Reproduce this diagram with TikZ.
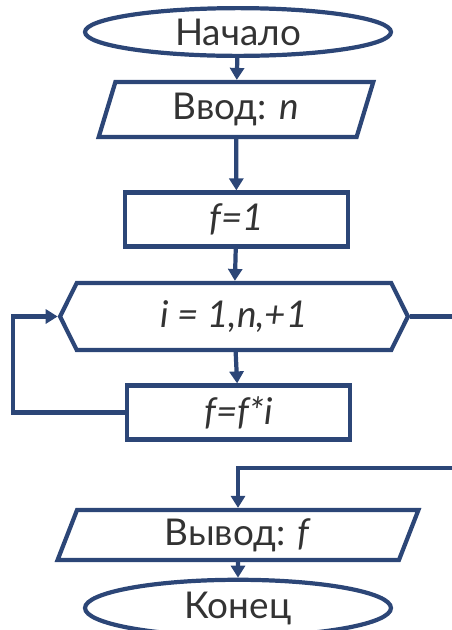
\documentclass[tikz,border=0pt]{standalone}
\usepackage{fontspec}
\setmainfont{Lato}
\usepackage{tikz}
\usetikzlibrary{shapes.geometric,shapes.symbols,arrows.meta,positioning}
\definecolor{flowblue}{HTML}{2C4677}

\begin{document}
\begin{tikzpicture}[
    x=0.02cm, y=-0.02cm,
    font=\fontsize{21}{24}\selectfont,
    block/.style={draw=flowblue, line width=2.4pt, text=black!80, inner sep=2pt},
    terminal/.style={block, ellipse, minimum width=6.12cm, minimum height=0.92cm},
    io/.style={block, trapezium, trapezium left angle=77, trapezium right angle=103, trapezium stretches=true},
    process/.style={block, rectangle, minimum width=4.46cm, minimum height=1.08cm},
    loophead/.style={block, signal, signal to=west and east, signal pointer angle=127, minimum width=6.96cm, minimum height=1.34cm},
    line/.style={draw=flowblue, line width=2.4pt},
    flow/.style={line, -{Triangle[width=0.28cm, length=0.24cm]}}
]
\useasboundingbox (0,0) rectangle (452,630);

% === Nodes ===
\node[terminal] (start) at (238, 32) {Начало};
\node[io, minimum width=5.54cm, minimum height=1.1cm] (in) at (236, 109.5) {Ввод: \textit{n}};
\node[process] (init) at (236.5, 219.5) {\textit{f=1}};
\node[loophead] (loop) at (234, 316.5) {\textit{i = 1,n,+1}};
\node[process] (body) at (238.5, 412.5) {\textit{f=f*i}};
\node[io, minimum width=7.28cm, minimum height=1.0cm] (out) at (238, 535) {Вывод: \textit{f}};
\node[terminal] (stop) at (238, 608) {Конец};

% Helper points for the loop and exit
\coordinate (back) at (13, 412.5);
\coordinate (exitA) at (460, 316.5);
\coordinate (exitB) at (460, 468);

% === Connectors ===
\draw[flow] (start) -- (in);
\draw[flow] (in) -- (init);
\draw[flow] (init) -- (loop);
\draw[flow] (loop) -- (body);
\draw[flow] (body.west) -- (back) |- (loop.west);
\draw[line] (loop.east) -- (exitA);
\draw[flow] (exitB) -| (out.north);
\draw[flow] (out) -- (stop);

\end{tikzpicture}
\end{document}
